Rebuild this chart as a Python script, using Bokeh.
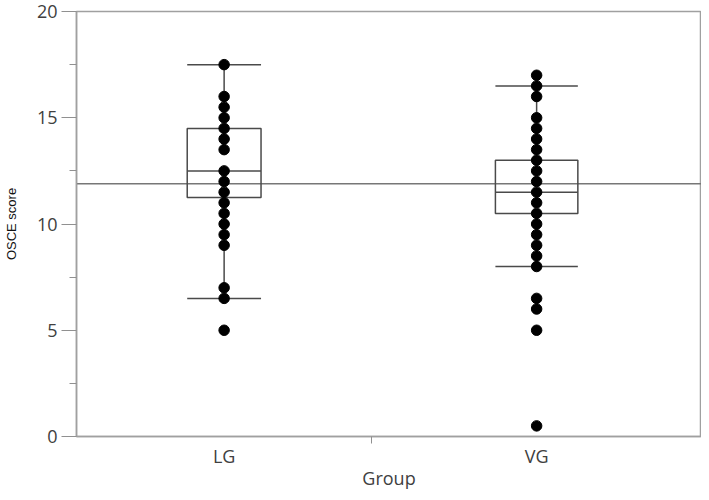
from bokeh.plotting import figure
from bokeh.models import Range1d, FixedTicker
from bokeh.embed import file_html
from bokeh.resources import INLINE
import numpy as np

# ---- data ----
groups = ["LG", "VG"]
group_share = [0.4724, 0.5276]          # JMP draws group widths proportional to n
lg_scores = [17.5, 16.0, 15.5, 15.0, 14.5, 14.0, 13.5, 12.5, 12.0, 11.5, 11.0,
             10.5, 10.0, 9.5, 9.0, 7.0, 6.5, 5.0]
vg_scores = [17.0, 16.5, 16.0, 15.0, 14.5, 14.0, 13.5, 13.0, 12.5, 12.0, 11.5,
             11.0, 10.5, 10.0, 9.5, 9.0, 8.5, 8.0, 6.5, 6.0, 5.0, 0.5]
q1 = [11.25, 10.5]
median = [12.5, 11.5]
q3 = [14.5, 13.0]
whisk_lo = [6.5, 8.0]
whisk_hi = [17.5, 16.5]
grand_mean = 11.9
y_ticks = [0, 5, 10, 15, 20]
y_minor = [2.5, 7.5, 12.5, 17.5]

# ---- layout helpers ----
edges = np.concatenate([[0], np.cumsum(group_share)])
centers = (edges[:-1] + edges[1:]) / 2
box_w = [s * 0.25 for s in group_share]

p = figure(width=701, height=492, output_backend="svg", toolbar_location=None,
           x_range=Range1d(0, 1), y_range=Range1d(0, 20),
           min_border_left=72, min_border_right=0, min_border_top=11, min_border_bottom=50)
p.background_fill_color = "white"
p.border_fill_color = "white"
p.outline_line_color = "#a0a0a0"
p.outline_line_width = 1.5
p.xgrid.visible = False
p.ygrid.visible = False

# grand mean line
p.line(x=[0, 1], y=[grand_mean, grand_mean], line_color="#777777", line_width=1.5)

box_col = "#4a4a4a"
for i, g in enumerate(groups):
    c = centers[i]
    w = box_w[i]
    p.segment(x0=[c, c], y0=[q3[i], q1[i]], x1=[c, c], y1=[whisk_hi[i], whisk_lo[i]],
              line_color=box_col, line_width=1.5)
    p.segment(x0=[c - w / 2] * 2, y0=[whisk_hi[i], whisk_lo[i]],
              x1=[c + w / 2] * 2, y1=[whisk_hi[i], whisk_lo[i]],
              line_color=box_col, line_width=1.5)
    p.quad(left=[c - w / 2], right=[c + w / 2], bottom=[q1[i]], top=[q3[i]],
           fill_color=None, line_color=box_col, line_width=1.5)
    p.segment(x0=[c - w / 2], y0=[median[i]], x1=[c + w / 2], y1=[median[i]],
              line_color=box_col, line_width=1.5)

p.scatter(x=[centers[0]] * len(lg_scores), y=lg_scores, size=10.5, color="black")
p.scatter(x=[centers[1]] * len(vg_scores), y=vg_scores, size=10.5, color="black")

# y axis
ya = p.yaxis[0]
ya.ticker = FixedTicker(ticks=y_ticks, minor_ticks=y_minor)
ya.axis_label = "OSCE score"
ya.axis_label_text_font = "Liberation Sans"
ya.axis_label_text_font_size = "13px"
ya.axis_label_text_font_style = "normal"
ya.axis_label_text_color = "#111111"
ya.axis_label_standoff = 15
ya.major_label_text_font = "Open Sans"
ya.major_label_text_font_size = "18px"
ya.major_label_text_color = "#404040"
ya.major_label_standoff = 4
ya.major_tick_out = 15
ya.major_tick_in = 0
ya.minor_tick_out = 7
ya.minor_tick_in = 0
ya.axis_line_color = "#a0a0a0"
ya.axis_line_width = 1.5
ya.major_tick_line_color = "#909090"
ya.minor_tick_line_color = "#909090"

# x axis
xa = p.xaxis[0]
xa.ticker = FixedTicker(ticks=list(centers), minor_ticks=[edges[1]])
xa.major_label_overrides = {float(centers[i]): groups[i] for i in range(len(groups))}
xa.axis_label = "Group"
xa.axis_label_text_font = "Open Sans"
xa.axis_label_text_font_size = "18px"
xa.axis_label_text_font_style = "normal"
xa.axis_label_text_color = "#404040"
xa.axis_label_standoff = -5
xa.major_label_text_font = "Open Sans"
xa.major_label_text_font_size = "18px"
xa.major_label_text_color = "#404040"
xa.major_label_standoff = 0
xa.major_tick_out = 0
xa.major_tick_in = 0
xa.minor_tick_out = 7
xa.minor_tick_in = 0
xa.minor_tick_line_color = "#909090"
xa.axis_line_color = "#a0a0a0"
xa.axis_line_width = 1.5

open("out.html", "w").write(file_html(p, INLINE))
